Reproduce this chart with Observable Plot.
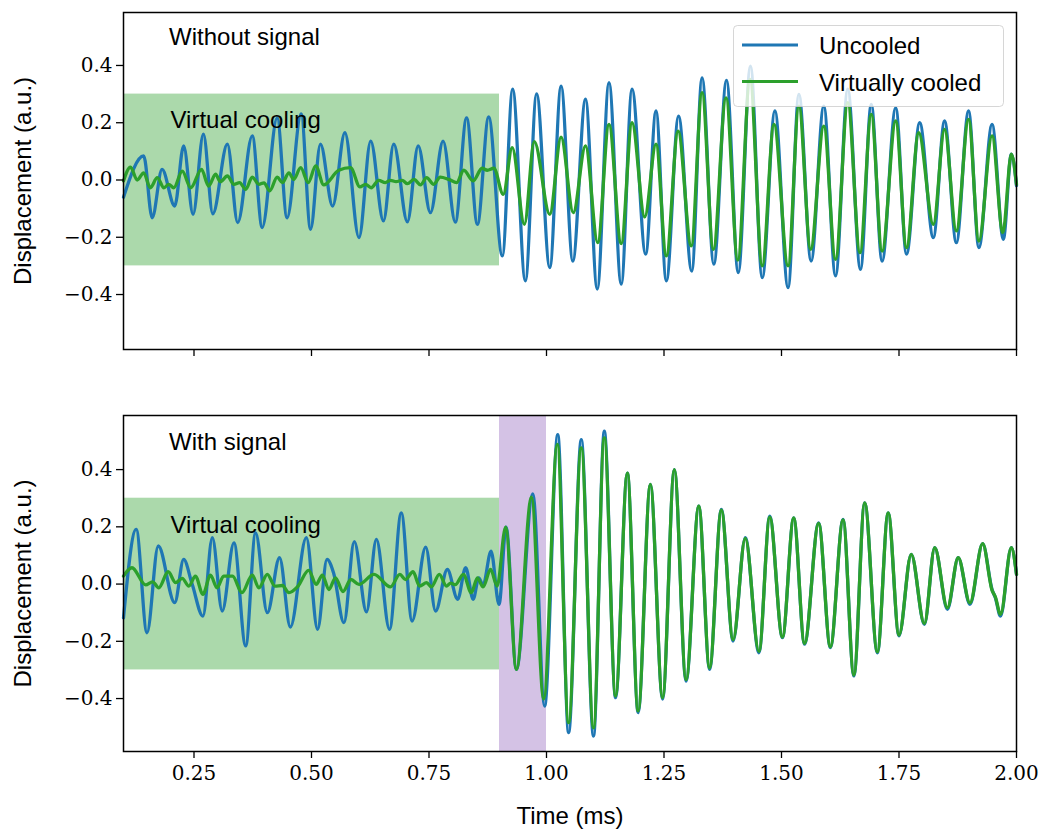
<!DOCTYPE html>
<html>
<head>
<meta charset="utf-8">
<script src="https://cdn.jsdelivr.net/npm/d3@7"></script>
<script src="https://cdn.jsdelivr.net/npm/@observablehq/plot@0.6"></script>
<style>
  html, body { margin: 0; padding: 0; background: white; }
  #chart { position: relative; width: 1043px; height: 832px; background: white; }
  #chart svg { display: block; }
  #legend { position: absolute; left: 733px; top: 25px; }
</style>
</head>
<body>
<div id="chart"></div>
<script>
// ---------- data (extrema of each trace) ----------
const xTicks = [0.25, 0.5, 0.75, 1.0, 1.25, 1.5, 1.75, 2.0];
const yTicks = [-0.4, -0.2, 0.0, 0.2, 0.4];

const coolingWindow = [0.1, 0.9];   // ms
const coolingBand = [-0.3, 0.3];    // a.u.
const signalWindow = [0.9, 1.0];    // ms

const seriesNames = ["Uncooled", "Virtually cooled"];
const seriesColors = ["#1f77b4", "#2ca02c"];

// Top panel: without signal
const topUncooledT = [0.100,0.143,0.161,0.182,0.209,0.228,0.248,0.270,0.290,0.321,0.343,0.374,0.395,0.427,0.448,0.478,0.498,0.519,0.545,0.571,0.601,0.626,0.653,0.675,0.704,0.727,0.753,0.780,0.806,0.830,0.853,0.877,0.906,0.928,0.955,0.979,1.007,1.031,1.056,1.083,1.108,1.133,1.159,1.182,1.211,1.233,1.255,1.281,1.309,1.331,1.356,1.383,1.408,1.434,1.459,1.486,1.514,1.537,1.563,1.590,1.615,1.641,1.668,1.691,1.714,1.743,1.766,1.794,1.823,1.847,1.872,1.898,1.920,1.948,1.972,1.989,2.000];
const topUncooledV = [-0.060,0.084,-0.132,0.037,-0.091,0.119,-0.120,0.160,-0.118,0.125,-0.149,0.154,-0.166,0.217,-0.132,0.231,-0.172,0.125,-0.091,0.165,-0.201,0.136,-0.143,0.125,-0.146,0.119,-0.114,0.136,-0.147,0.217,-0.155,0.220,-0.265,0.317,-0.352,0.301,-0.306,0.328,-0.283,0.282,-0.381,0.340,-0.364,0.317,-0.259,0.241,-0.352,0.223,-0.318,0.357,-0.294,0.348,-0.323,0.398,-0.341,0.241,-0.376,0.299,-0.283,0.258,-0.335,0.317,-0.312,0.264,-0.283,0.252,-0.259,0.200,-0.201,0.206,-0.219,0.241,-0.236,0.194,-0.207,0.090,-0.020];

const topCooledT = [0.100,0.115,0.129,0.143,0.157,0.172,0.186,0.196,0.207,0.225,0.243,0.266,0.281,0.296,0.306,0.321,0.335,0.347,0.360,0.374,0.388,0.399,0.411,0.427,0.438,0.452,0.462,0.477,0.493,0.509,0.526,0.558,0.583,0.603,0.615,0.627,0.643,0.657,0.668,0.680,0.693,0.704,0.718,0.732,0.745,0.760,0.774,0.792,0.809,0.824,0.844,0.863,0.874,0.888,0.908,0.927,0.953,0.974,1.007,1.031,1.057,1.083,1.109,1.133,1.159,1.182,1.209,1.233,1.255,1.280,1.308,1.331,1.355,1.382,1.407,1.433,1.459,1.484,1.514,1.537,1.562,1.590,1.615,1.641,1.667,1.691,1.714,1.743,1.766,1.792,1.823,1.847,1.872,1.898,1.920,1.948,1.971,1.989,2.000];
const topCooledV = [-0.003,0.045,0.000,0.025,-0.027,0.008,-0.027,-0.015,-0.027,0.031,-0.027,0.037,-0.021,0.020,-0.006,0.014,-0.015,-0.009,-0.033,0.010,-0.015,-0.010,-0.038,0.010,-0.009,0.025,0.002,0.043,-0.009,0.049,-0.017,0.034,0.043,-0.024,-0.015,-0.027,-0.001,-0.009,-0.001,-0.006,-0.001,-0.013,0.002,-0.017,0.008,-0.015,0.010,0.002,-0.009,0.034,-0.003,0.041,0.034,0.041,-0.050,0.113,-0.155,0.134,-0.120,0.150,-0.114,0.119,-0.219,0.194,-0.222,0.200,-0.129,0.125,-0.265,0.171,-0.230,0.305,-0.242,0.287,-0.280,0.351,-0.300,0.194,-0.300,0.258,-0.242,0.188,-0.277,0.270,-0.254,0.229,-0.248,0.206,-0.236,0.165,-0.155,0.177,-0.178,0.212,-0.213,0.154,-0.184,0.090,-0.015];

// Bottom panel: with signal
const botUncooledT = [0.100,0.127,0.150,0.174,0.209,0.228,0.246,0.269,0.289,0.310,0.335,0.360,0.381,0.406,0.432,0.455,0.489,0.513,0.533,0.547,0.569,0.591,0.617,0.638,0.666,0.691,0.714,0.743,0.764,0.789,0.811,0.828,0.844,0.856,0.865,0.882,0.899,0.914,0.936,0.971,0.996,1.024,1.047,1.074,1.100,1.123,1.147,1.172,1.195,1.221,1.247,1.272,1.297,1.324,1.347,1.372,1.397,1.423,1.452,1.475,1.502,1.526,1.549,1.579,1.604,1.631,1.654,1.677,1.704,1.727,1.750,1.776,1.804,1.826,1.853,1.876,1.901,1.928,1.948,1.955,1.966,1.989,2.000];
const botUncooledV = [-0.118,0.191,-0.170,0.133,-0.065,0.086,0.000,-0.112,0.162,-0.094,0.144,-0.216,0.179,-0.100,0.092,-0.150,0.162,-0.158,0.086,0.039,-0.135,0.148,-0.097,0.156,-0.158,0.249,-0.129,0.129,-0.094,0.051,-0.053,0.057,-0.053,0.022,-0.005,0.115,-0.071,0.199,-0.298,0.315,-0.426,0.522,-0.519,0.505,-0.531,0.534,-0.397,0.388,-0.449,0.348,-0.402,0.400,-0.339,0.272,-0.298,0.261,-0.199,0.162,-0.240,0.237,-0.187,0.231,-0.210,0.214,-0.222,0.226,-0.321,0.284,-0.240,0.249,-0.181,0.104,-0.141,0.127,-0.088,0.092,-0.071,0.141,-0.019,-0.048,-0.112,0.127,0.034];

const botCooledT = [0.100,0.118,0.147,0.162,0.175,0.195,0.211,0.225,0.239,0.253,0.269,0.285,0.299,0.313,0.332,0.352,0.374,0.388,0.406,0.422,0.438,0.452,0.470,0.494,0.510,0.523,0.537,0.551,0.567,0.584,0.601,0.633,0.668,0.688,0.700,0.716,0.730,0.745,0.755,0.772,0.787,0.796,0.806,0.823,0.840,0.853,0.865,0.881,0.895,0.913,0.936,0.968,0.994,1.023,1.047,1.074,1.100,1.123,1.147,1.172,1.195,1.221,1.247,1.272,1.297,1.324,1.347,1.372,1.397,1.423,1.452,1.475,1.502,1.526,1.549,1.579,1.604,1.631,1.654,1.677,1.704,1.727,1.750,1.776,1.804,1.826,1.853,1.876,1.901,1.928,1.948,1.955,1.966,1.989,2.000];
const botCooledV = [0.028,0.057,-0.003,0.008,-0.013,0.043,0.005,0.020,-0.007,0.028,-0.036,0.031,-0.013,0.028,0.028,-0.030,0.031,-0.013,0.034,-0.007,-0.005,-0.030,-0.010,0.048,-0.001,0.031,-0.019,0.022,-0.026,0.016,-0.001,0.034,-0.010,0.034,0.016,0.043,-0.007,0.005,-0.010,0.034,-0.007,0.003,-0.002,0.034,-0.030,0.022,-0.010,0.051,-0.007,0.199,-0.298,0.304,-0.402,0.488,-0.484,0.476,-0.502,0.511,-0.391,0.388,-0.443,0.348,-0.397,0.400,-0.334,0.272,-0.293,0.258,-0.194,0.160,-0.235,0.234,-0.185,0.231,-0.207,0.212,-0.219,0.224,-0.318,0.284,-0.237,0.249,-0.178,0.104,-0.138,0.127,-0.083,0.092,-0.066,0.141,-0.022,-0.045,-0.106,0.127,0.034];

// ---------- helpers ----------
const toRows = (T, V) => T.map((t, i) => ({t, v: V[i]}));
const sans = "'Liberation Sans', Arial, sans-serif";
const serif = "'DejaVu Serif', serif";
const fmtY = d => (d < -1e-9 ? "\u2212" : "") + Math.abs(d).toFixed(1);
const fmtX = d => d.toFixed(2);

function panel({height, marginTop, marginBottom, yDomain, uncooled, cooled, title, showSignal, showXLabels}) {
  const marks = [
    Plot.rect([{x1: coolingWindow[0], x2: coolingWindow[1], y1: coolingBand[0], y2: coolingBand[1]}],
      {x1: "x1", x2: "x2", y1: "y1", y2: "y2", fill: seriesColors[1], fillOpacity: 0.4})
  ];
  if (showSignal) {
    marks.push(Plot.rect([{x1: signalWindow[0], x2: signalWindow[1]}],
      {x1: "x1", x2: "x2", fill: "#9467bd", fillOpacity: 0.4}));
  }
  marks.push(
    Plot.line(uncooled, {x: "t", y: "v", stroke: seriesColors[0], strokeWidth: 3.3, curve: "monotone-x"}),
    Plot.line(cooled, {x: "t", y: "v", stroke: seriesColors[1], strokeWidth: 3.3, curve: "monotone-x"}),
    Plot.frame({stroke: "black", strokeWidth: 1.5}),
    Plot.axisY({ticks: yTicks, tickSize: 7, tickPadding: 4, tickFormat: fmtY, label: null,
      fontFamily: serif, fontSize: 20, strokeWidth: 1.3}),
    Plot.axisX({ticks: xTicks, tickSize: 7, tickPadding: 7, label: null,
      tickFormat: showXLabels ? fmtX : () => "", fontFamily: serif, fontSize: 20, strokeWidth: 1.3}),
    Plot.text([title], {x: 0.197, y: 0.497, text: d => d, textAnchor: "start", lineAnchor: "middle",
      fontFamily: sans, fontSize: 24, fill: "black"}),
    Plot.text(["Virtual cooling"], {x: 0.2, y: 0.207, text: d => d, textAnchor: "start", lineAnchor: "middle",
      fontFamily: sans, fontSize: 24, fill: "black"}),
    Plot.text(["Displacement (a.u.)"], {frameAnchor: "left", dx: -100, rotate: -90, text: d => d,
      textAnchor: "middle", lineAnchor: "middle", fontFamily: sans, fontSize: 24, fill: "black"})
  );
  if (showXLabels) {
    marks.push(Plot.text(["Time (ms)"], {frameAnchor: "bottom", dy: 65, text: d => d,
      textAnchor: "middle", lineAnchor: "middle", fontFamily: sans, fontSize: 24, fill: "black"}));
  }
  return Plot.plot({
    width: 1043, height, marginLeft: 123, marginRight: 27, marginTop, marginBottom,
    x: {domain: [0.1, 2.0]},
    y: {domain: yDomain},
    style: {background: "white", color: "black", fontFamily: serif, fontSize: "20px", overflow: "visible"},
    marks
  });
}

const chart = document.getElementById("chart");
chart.appendChild(panel({height: 400, marginTop: 12, marginBottom: 51, yDomain: [-0.592, 0.585],
  uncooled: toRows(topUncooledT, topUncooledV), cooled: toRows(topCooledT, topCooledV),
  title: "Without signal", showSignal: false, showXLabels: false}));
chart.appendChild(panel({height: 432, marginTop: 15, marginBottom: 81, yDomain: [-0.585, 0.589],
  uncooled: toRows(botUncooledT, botUncooledV), cooled: toRows(botCooledT, botCooledV),
  title: "With signal", showSignal: true, showXLabels: true}));

// legend (upper right of the top panel)
const ns = "http://www.w3.org/2000/svg";
const leg = document.createElementNS(ns, "svg");
leg.setAttribute("id", "legend");
leg.setAttribute("width", 272);
leg.setAttribute("height", 84);
leg.innerHTML = `<rect x="0.5" y="0.5" width="270" height="81" rx="4" fill="white" fill-opacity="0.8" stroke="#cccccc" stroke-opacity="0.8" stroke-width="1"/>` +
  seriesNames.map((name, i) => {
    const y = 20 + i * 36.5;
    return `<line x1="9" x2="65" y1="${y}" y2="${y}" stroke="${seriesColors[i]}" stroke-width="3"/>` +
      `<text x="86" y="${y + 9}" font-family="${sans.replace(/'/g, "")}" font-size="24" fill="black">${name}</text>`;
  }).join("");
chart.appendChild(leg);
</script>
</body>
</html>
